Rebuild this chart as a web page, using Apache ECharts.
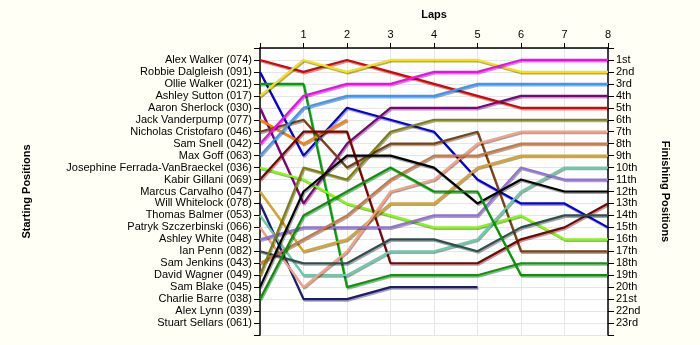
<!DOCTYPE html>
<html>
<head>
<meta charset="utf-8">
<script src="https://cdn.jsdelivr.net/npm/echarts@6/dist/echarts.min.js"></script>
<style>
html,body{margin:0;padding:0;background:#fffff5;}
#chart{width:700px;height:345px;}
</style>
</head>
<body>
<div id="chart"></div>
<script>
const laps = [0, 1, 2, 3, 4, 5, 6, 7, 8];
const lapLabels = ['', '1', '2', '3', '4', '5', '6', '7', '8'];
const drivers = [
  'Alex Walker (074)', 'Robbie Dalgleish (091)', 'Ollie Walker (021)', 'Ashley Sutton (017)',
  'Aaron Sherlock (030)', 'Jack Vanderpump (077)', 'Nicholas Cristofaro (046)', 'Sam Snell (042)',
  'Max Goff (063)', 'Josephine Ferrada-VanBraeckel (036)', 'Kabir Gillani (069)', 'Marcus Carvalho (047)',
  'Will Whitelock (078)', 'Thomas Balmer (053)', 'Patryk Szczerbinski (066)', 'Ashley White (048)',
  'Ian Penn (082)', 'Sam Jenkins (043)', 'David Wagner (049)', 'Sam Blake (045)',
  'Charlie Barre (038)', 'Alex Lynn (039)', 'Stuart Sellars (061)'
];
const finishLabels = ['1st','2nd','3rd','4th','5th','6th','7th','8th','9th','10th','11th','12th',
  '13th','14th','15th','16th','17th','18th','19th','20th','21st','22nd','23rd'];
const driverColors = [
  '#e00000', '#0000e0', '#00a000', '#f5e400', '#800080', '#ff8000', '#7a4210', '#ff00ff',
  '#3399ff', '#80ff00', '#800000', '#dba520', '#1c1c78', '#66cdaa', '#f8a080', '#9370db',
  '#2f4f4f', '#cd7840', '#808000', '#000000', '#009a00', '#888888', '#888888'
];
// position of each driver at laps 0..8 (null = not running)
const positions = [
  [1, 2, 1, 2, 3, 4, 5, 5, 5],
  [2, 9, 5, 6, 7, 11, 13, 13, 15],
  [3, 3, 20, 19, 19, 19, 18, 18, 18],
  [4, 1, 2, 1, 1, 1, 2, 2, 2],
  [5, 13, 8, 5, 5, 5, 4, 4, 4],
  [6, 8, 6, null, null, null, null, null, null],
  [7, 6, 10, 8, 8, 7, 17, 17, 17],
  [8, 4, 3, 3, 2, 2, 1, 1, 1],
  [9, 5, 4, 4, 4, 3, 3, 3, 3],
  [10, 11, 13, 14, 15, 15, 14, 16, 16],
  [11, 7, 7, 18, 18, 18, 16, 15, 13],
  [12, 17, 16, 13, 13, 10, 9, 9, 9],
  [13, 21, 21, 20, 20, 20, null, null, null],
  [14, 19, 19, 17, 17, 16, 12, 10, 10],
  [15, 20, 17, 12, 11, 8, 7, 7, 7],
  [16, 15, 15, 15, 14, 14, 10, 11, 11],
  [17, 18, 18, 16, 16, 17, 15, 14, 14],
  [18, 16, 14, 11, 9, 9, 8, 8, 8],
  [19, 10, 11, 7, 6, 6, 6, 6, 6],
  [20, 12, 9, 9, 10, 13, 11, 12, 12],
  [21, 14, 12, 10, 12, 12, 19, 19, 19],
  [],
  []
];

const font = 'Liberation Sans, Arial, sans-serif';
const series = drivers.map((name, i) => ({
  name: name,
  type: 'line',
  symbol: 'none',
  silent: true,
  color: driverColors[i],
  lineStyle: {
    width: 2.2,
    color: driverColors[i],
    shadowColor: 'rgba(0,0,0,0.35)',
    shadowBlur: 0,
    shadowOffsetX: 1,
    shadowOffsetY: 1.5
  },
  data: laps.filter((l, k) => positions[i][k] != null).map(l => [l, positions[i][laps.indexOf(l)]])
}));

const chart = echarts.init(document.getElementById('chart'), null, {renderer: 'canvas'});
chart.setOption({
  backgroundColor: '#fffff5',
  animation: false,
  grid: {left: 260, right: 92, top: 48, bottom: 10, show: true, backgroundColor: '#ffffff', borderWidth: 0},
  xAxis: {
    type: 'value', position: 'top', min: 0, max: 8, interval: 1,
    name: 'Laps', nameLocation: 'middle', nameGap: 28,
    nameTextStyle: {fontFamily: font, fontSize: 11, fontWeight: 'bold', color: '#000'},
    axisLine: {show: true, onZero: false, lineStyle: {color: '#000', width: 1.5}},
    axisTick: {show: true, length: 5, lineStyle: {color: '#000'}},
    axisLabel: {margin: 8, fontFamily: font, fontSize: 11, color: '#000',
      formatter: v => lapLabels[laps.indexOf(v)] || ''},
    splitLine: {show: true, lineStyle: {color: '#e6e6e6', width: 1}}
  },
  yAxis: [
    {
      type: 'value', position: 'left', inverse: true, min: 0, max: 24, interval: 1,
      name: 'Starting Positions', nameLocation: 'middle', nameGap: 228, nameRotate: 90,
      nameTextStyle: {fontFamily: font, fontSize: 11, fontWeight: 'bold', color: '#000'},
      axisLine: {show: true, onZero: false, lineStyle: {color: '#000', width: 1.5}},
      axisTick: {show: true, length: 6, lineStyle: {color: '#000'}},
      axisLabel: {margin: 8, fontFamily: font, fontSize: 11, color: '#000',
        formatter: v => drivers[v - 1] || ''},
      splitLine: {show: true, lineStyle: {color: '#e6e6e6', width: 1}}
    },
    {
      type: 'value', position: 'right', inverse: true, min: 0, max: 24, interval: 1,
      name: 'Finishing Positions', nameLocation: 'middle', nameGap: 52, nameRotate: -90,
      nameTextStyle: {fontFamily: font, fontSize: 11, fontWeight: 'bold', color: '#000'},
      axisLine: {show: true, onZero: false, lineStyle: {color: '#000', width: 1.5}},
      axisTick: {show: true, length: 6, lineStyle: {color: '#000'}},
      axisLabel: {margin: 8, fontFamily: font, fontSize: 11, color: '#000',
        formatter: v => finishLabels[v - 1] || ''},
      splitLine: {show: false}
    }
  ],
  series: series
});
</script>
</body>
</html>
